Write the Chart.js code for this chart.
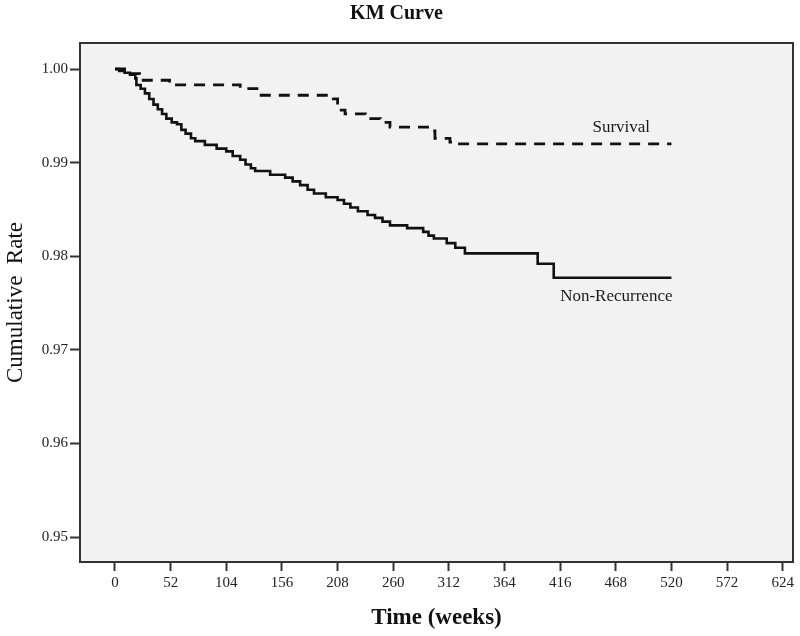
<!DOCTYPE html>
<html>
<head>
<meta charset="utf-8">
<script src="https://cdn.jsdelivr.net/npm/chart.js@4/dist/chart.umd.min.js"></script>
<style>
  html, body { margin: 0; padding: 0; background: #fff; }
  canvas { display: block; }
</style>
</head>
<body>
<canvas id="kmChart" width="800" height="636"></canvas>
<script>
// Non-recurrence curve (solid), steps
const nonRecWeeks = [0, 4, 9, 14, 19, 20, 24, 28, 32, 36, 40, 44, 48, 53, 58, 62, 66, 71, 75, 84, 95, 104, 110, 117, 122, 127, 131, 145, 159, 166, 173, 180, 186, 197, 208, 214, 220, 227, 236, 243, 250, 257, 273, 288, 293, 298, 310, 318, 327, 395, 410, 520];
const nonRecRates = [1.0000, 0.9998, 0.9996, 0.9994, 0.9990, 0.9983, 0.9979, 0.9974, 0.9968, 0.9962, 0.9957, 0.9952, 0.9947, 0.9943, 0.9941, 0.9935, 0.9931, 0.9926, 0.9923, 0.9919, 0.9915, 0.9912, 0.9907, 0.9903, 0.9898, 0.9894, 0.9891, 0.9887, 0.9884, 0.9880, 0.9876, 0.9871, 0.9867, 0.9863, 0.9860, 0.9856, 0.9852, 0.9848, 0.9844, 0.9841, 0.9837, 0.9833, 0.9830, 0.9826, 0.9822, 0.9819, 0.9814, 0.9809, 0.9803, 0.9792, 0.9777, 0.9777];

// Survival curve (dashed)
const survWeeks = [0, 9, 23, 51, 117, 134, 204, 208, 215, 234, 248, 257, 295, 299, 313, 318, 520];
const survRates = [1.0000, 0.9995, 0.9988, 0.9983, 0.9979, 0.9972, 0.9968, 0.9956, 0.9952, 0.9947, 0.9943, 0.9938, 0.9934, 0.9926, 0.9922, 0.9920, 0.9920];

const xTicks = [0, 52, 104, 156, 208, 260, 312, 364, 416, 468, 520, 572, 624];
const yTicks = [0.95, 0.96, 0.97, 0.98, 0.99, 1.00];

const SERIF = "'Liberation Serif', 'DejaVu Serif', serif";

const toPoints = (xs, ys) => xs.map((x, i) => ({ x: x, y: ys[i] }));

// grey plot background + frame around the chart area
const plotFrame = {
    id: "plotFrame",
    beforeDraw(chart) {
        const { ctx, chartArea: a } = chart;
        ctx.save();
        ctx.fillStyle = "#f2f2f2";
        ctx.fillRect(a.left, a.top, a.right - a.left, a.bottom - a.top);
        ctx.restore();
    },
    afterDraw(chart) {
        const { ctx, chartArea: a } = chart;
        ctx.save();
        ctx.strokeStyle = "#333";
        ctx.lineWidth = 2;
        ctx.strokeRect(a.left, a.top, a.right - a.left, a.bottom - a.top);
        ctx.restore();
    },
};

// curve names written next to the lines
const curveLabels = {
    id: "curveLabels",
    afterDatasetsDraw(chart) {
        const { ctx, scales } = chart;
        ctx.save();
        ctx.font = "17px " + SERIF;
        ctx.fillStyle = "#1a1a1a";
        ctx.textAlign = "right";
        ctx.textBaseline = "middle";
        ctx.fillText("Survival", scales.x.getPixelForValue(500), scales.y.getPixelForValue(0.9938));
        ctx.fillText("Non-Recurrence", scales.x.getPixelForValue(521), scales.y.getPixelForValue(0.97564));
        ctx.restore();
    },
};

const data = {
    datasets: [
        {
            label: "Survival",
            data: toPoints(survWeeks, survRates),
            borderColor: "#111",
            borderWidth: 2.8,
            borderDash: [11, 8],
            stepped: true,
            pointRadius: 0,
            fill: false,
        },
        {
            label: "Non-Recurrence",
            data: toPoints(nonRecWeeks, nonRecRates),
            borderColor: "#111",
            borderWidth: 2.6,
            stepped: true,
            pointRadius: 0,
            fill: false,
        },
    ],
};

const config = {
    type: "line",
    data: data,
    plugins: [plotFrame, curveLabels],
    options: {
        responsive: false,
        animation: false,
        layout: { padding: { left: 0, right: 7, top: 0, bottom: 0 } },
        plugins: {
            legend: { display: false },
            tooltip: { enabled: false },
            title: {
                display: true,
                text: "KM Curve",
                color: "#111",
                font: { family: SERIF, size: 20, weight: "bold" },
                padding: { top: 2, bottom: 17 },
            },
        },
        scales: {
            x: {
                type: "linear",
                min: -32.7,
                max: 633.6,
                afterFit: (s) => { s.height = 74; },
                afterBuildTicks: (s) => { s.ticks = xTicks.map((v) => ({ value: v })); },
                border: { display: false },
                grid: {
                    drawOnChartArea: false,
                    drawTicks: true,
                    tickLength: 9,
                    tickColor: "#333",
                    tickWidth: 2,
                },
                ticks: {
                    color: "#222",
                    padding: 3,
                    maxRotation: 0,
                    font: { family: SERIF, size: 15 },
                },
                title: {
                    display: true,
                    text: "Time (weeks)",
                    color: "#111",
                    font: { family: SERIF, size: 23, weight: "bold" },
                    padding: { top: 0, bottom: 4 },
                },
            },
            y: {
                type: "linear",
                min: 0.94733,
                max: 1.00278,
                afterFit: (s) => { s.width = 80; },
                afterBuildTicks: (s) => { s.ticks = yTicks.map((v) => ({ value: v })); },
                border: { display: false },
                grid: {
                    drawOnChartArea: false,
                    drawTicks: true,
                    tickLength: 10,
                    tickColor: "#333",
                    tickWidth: 2,
                },
                ticks: {
                    color: "#222",
                    padding: 2,
                    font: { family: SERIF, size: 15 },
                    callback: (v) => Number(v).toFixed(2),
                },
                title: {
                    display: true,
                    text: "Cumulative  Rate",
                    color: "#111",
                    font: { family: SERIF, size: 23 },
                    padding: { top: 2, bottom: 0 },
                },
            },
        },
    },
};

new Chart(document.getElementById("kmChart"), config);
</script>
</body>
</html>
